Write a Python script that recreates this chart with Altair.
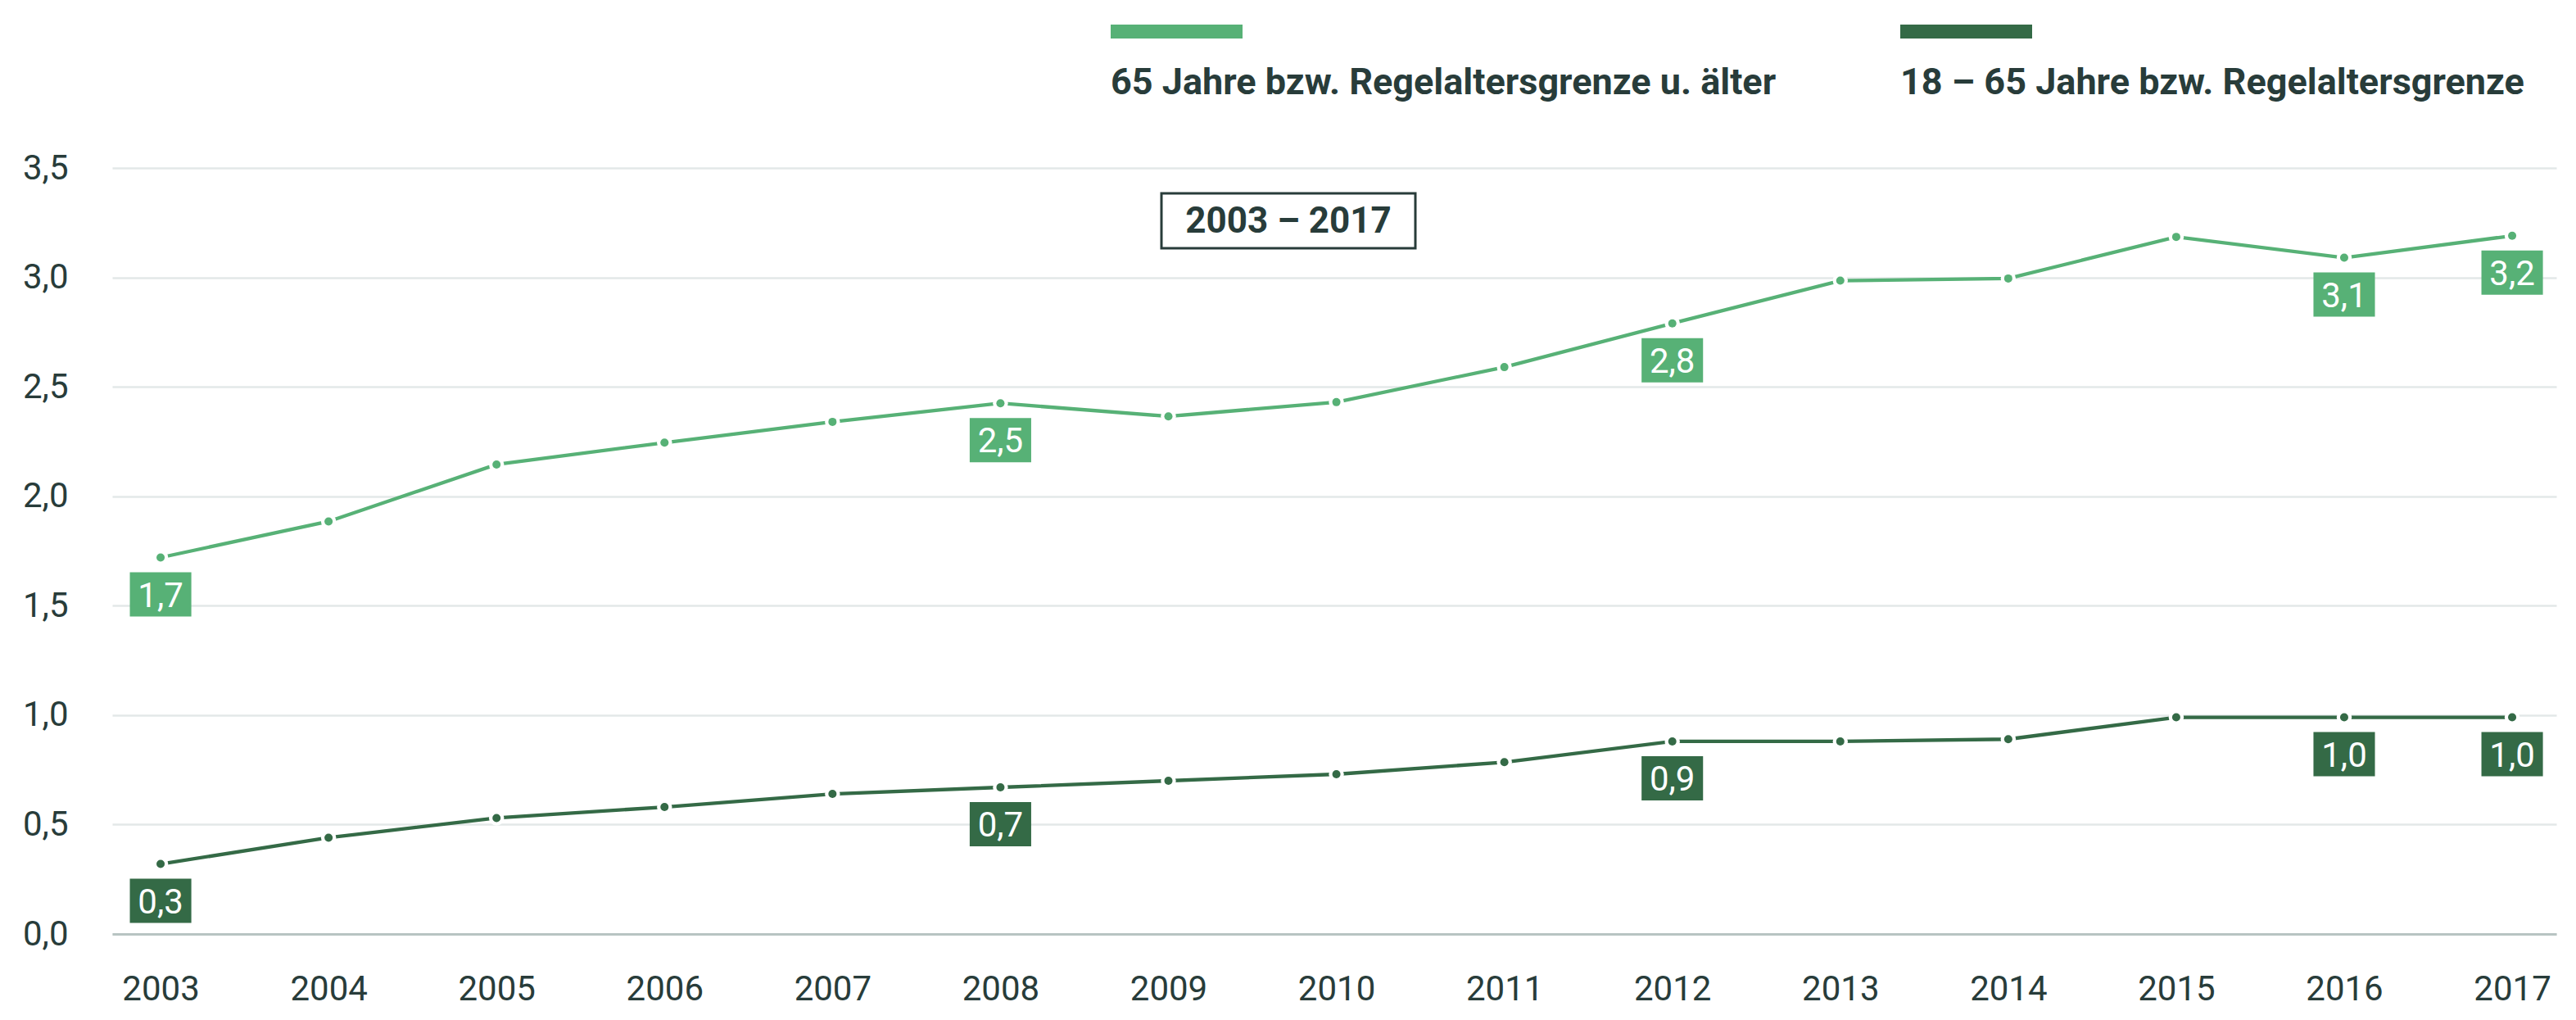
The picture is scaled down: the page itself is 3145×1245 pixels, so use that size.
import altair as alt
import pandas as pd

years = [2003, 2004, 2005, 2006, 2007, 2008, 2009, 2010, 2011, 2012, 2013, 2014, 2015, 2016, 2017]
series_names = ["65 Jahre bzw. Regelaltersgrenze u. älter", "18 – 65 Jahre bzw. Regelaltersgrenze"]
values_65 = [1.72, 1.885, 2.145, 2.245, 2.34, 2.425, 2.365, 2.43, 2.59, 2.79, 2.985, 2.995, 3.185, 3.09, 3.19]
values_18 = [0.32, 0.44, 0.53, 0.58, 0.64, 0.67, 0.70, 0.73, 0.785, 0.88, 0.88, 0.89, 0.99, 0.99, 0.99]
label_years = [2003, 2008, 2012, 2016, 2017]
labels_65 = ["1,7", "2,5", "2,8", "3,1", "3,2"]
labels_18 = ["0,3", "0,7", "0,9", "1,0", "1,0"]
colors = ["#57B176", "#346A46"]
y_ticks = [0, 0.5, 1.0, 1.5, 2.0, 2.5, 3.0, 3.5]
period = "2003 – 2017"

TEXT = "#283C3A"
FONT = "Roboto"

rows = []
for name, vals in zip(series_names, [values_65, values_18]):
    for y, v in zip(years, vals):
        rows.append({"year": y, "value": v, "series": name})
df = pd.DataFrame(rows)

lab_rows = []
for name, vals, labs in zip(series_names, [values_65, values_18], [labels_65, labels_18]):
    for y, t in zip(label_years, labs):
        lab_rows.append({"year": y, "value": vals[years.index(y)], "series": name, "text": t})
ldf = pd.DataFrame(lab_rows)

W, H = 2984, 935
xscale = alt.Scale(domain=[2002.712, 2017.263], nice=False, zero=False)
yscale = alt.Scale(domain=[0, 3.5], nice=False)
cscale = alt.Scale(domain=series_names, range=colors)

x_enc = alt.X("year:Q", scale=xscale, axis=alt.Axis(
    values=years, format="d", grid=False, ticks=False, title=None,
    labelFont=FONT, labelFontSize=42, labelColor=TEXT, labelPadding=47,
    domainColor="#B8C4C2", domainWidth=3, labelFlush=False))
y_enc = alt.Y("value:Q", scale=yscale, axis=alt.Axis(
    values=y_ticks, labelExpr="replace(format(datum.value, '.1f'), '.', ',')",
    grid=True, gridColor="#E3E8E8", gridWidth=2.5, ticks=False, domain=False,
    title=None, labelFont=FONT, labelFontSize=42, labelColor=TEXT, labelPadding=54))

base = alt.Chart(df)

lines = base.mark_line(strokeWidth=4.3).encode(
    x=x_enc, y=y_enc,
    color=alt.Color("series:N", scale=cscale, legend=None),
    detail="series:N",
)
halo = base.mark_point(filled=True, opacity=1, size=340, color="white").encode(
    x="year:Q", y="value:Q")
dots = base.mark_point(filled=True, opacity=1, size=100).encode(
    x="year:Q", y="value:Q",
    color=alt.Color("series:N", scale=cscale, legend=None))

boxes = alt.Chart(ldf).mark_point(
    shape="M-1.39,-1H1.39V1H-1.39Z", filled=True, opacity=1, size=2916, yOffset=45
).encode(x="year:Q", y="value:Q", color=alt.Color("series:N", scale=cscale, legend=None))
box_text = alt.Chart(ldf).mark_text(
    font=FONT, fontSize=42, color="white", baseline="middle", align="center", yOffset=47
).encode(x="year:Q", y="value:Q", text="text:N")

# period box
pdf = pd.DataFrame({"t": [period]})
pbox = alt.Chart(pdf).mark_rect(fill="white", stroke=TEXT, strokeWidth=3).encode(
    x=alt.value(1281), x2=alt.value(1591), y=alt.value(31), y2=alt.value(98))
ptext = alt.Chart(pdf).mark_text(
    font=FONT, fontSize=44, fontWeight="bold", color=TEXT, align="center", baseline="middle"
).encode(x=alt.value(1436), y=alt.value(66), text="t:N")

# legend (manual)
leg_rects = []
leg_texts = []
for name, col, x0 in zip(series_names, colors, [1219, 2183]):
    d = pd.DataFrame({"series": [name]})
    leg_rects.append(alt.Chart(d).mark_rect(color=col).encode(
        x=alt.value(x0), x2=alt.value(x0 + 161), y=alt.value(-175), y2=alt.value(-158)))
    leg_texts.append(alt.Chart(d).mark_text(
        font=FONT, fontSize=45, fontWeight="bold", color=TEXT, align="left", baseline="alphabetic"
    ).encode(x=alt.value(x0), y=alt.value(-90), text="series:N"))

chart = alt.layer(
    lines, halo, dots, boxes, box_text, pbox, ptext, *leg_rects, *leg_texts
).properties(
    width=W, height=H,
    padding={"left": 129, "top": 197, "right": 14, "bottom": 90},
    autosize=alt.AutoSizeParams(type="none"),
    background="white",
).configure_view(stroke=None)

chart.save("out.html", embed_options={"renderer": "svg", "actions": False})
